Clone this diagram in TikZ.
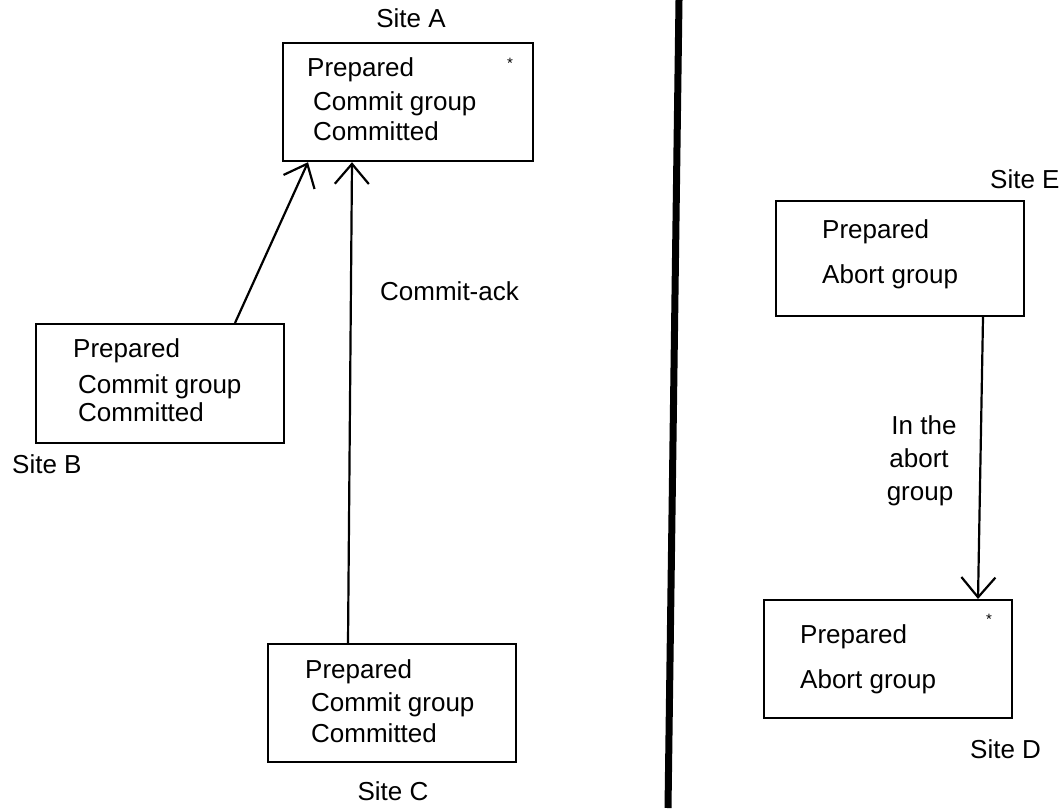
\documentclass[tikz,border=0pt]{standalone}
\usepackage{fontspec}
\setmainfont{Liberation Sans}
\usetikzlibrary{arrows.meta}
\begin{document}
\begin{tikzpicture}[x=1pt,y=-1pt,
  sitebox/.style={draw, line width=2.2pt, minimum width=248pt, minimum height=118pt,
                  anchor=north west, inner sep=0pt},
  txt/.style={font=\fontsize{26}{30}\selectfont, anchor=base west, inner sep=0pt},
  ctxt/.style={font=\fontsize{26}{30}\selectfont, anchor=base, inner sep=0pt},
  msg/.style={line width=2.2pt, -{Straight Barb[length=20pt,width=34pt,line width=2.2pt]}},
  starmark/.style={font=\fontsize{15}{15}\selectfont, inner sep=0pt}]
\useasboundingbox (0,0) rectangle (1062,808);

% commit side: sites A, B, C
\node[sitebox, minimum width=250pt] (A) at (282,42) {};
\node[ctxt] (Alab) at (411,28) {Site A};
\node[txt] (A1) at (307,76) {Prepared};
\node[txt] (A2) at (313,110) {Commit group};
\node[txt] (A3) at (313,140) {Committed};
\node[starmark] (Astar) at (510,63) {*};

\node[sitebox, minimum height=119pt] (B) at (35,323) {};
\node[txt] (B1) at (73,357) {Prepared};
\node[txt] (B2) at (78,393) {Commit group};
\node[txt] (B3) at (78,421) {Committed};
\node[txt] (Blab) at (12,473) {Site B};

\node[sitebox] (C) at (267,643) {};
\node[txt] (C1) at (305,678) {Prepared};
\node[txt] (C2) at (311,711) {Commit group};
\node[txt] (C3) at (311,742) {Committed};
\node[ctxt] (Clab) at (393,800) {Site C};

\node[txt] (ack) at (380,300) {Commit-ack};

\draw[msg] ([xshift=200pt]B.north west) -- ([xshift=26pt]A.south west);
\draw[msg] ([xshift=81pt]C.north west) -- ([xshift=70pt]A.south west);

% dividing bar
\draw[line width=7pt] (679,0) -- (668,808);

% abort side: sites E, D
\node[sitebox, minimum height=115pt] (E) at (775,200) {};
\node[txt] (Elab) at (990,188) {Site E};
\node[txt] (E1) at (822,238) {Prepared};
\node[txt] (E2) at (822,283) {Abort group};

\node[sitebox] (D) at (763,599) {};
\node[txt] (D1) at (800,643) {Prepared};
\node[txt] (D2) at (800,688) {Abort group};
\node[starmark] (Dstar) at (989,619) {*};
\node[txt] (Dlab) at (970,758) {Site D};

\node[ctxt] (g1) at (924,434) {In the};
\node[ctxt] (g2) at (919,467) {abort};
\node[ctxt] (g3) at (920,500) {group};

\draw[msg] ([xshift=208pt]E.south west) -- ([xshift=215pt]D.north west);
\end{tikzpicture}
\end{document}
